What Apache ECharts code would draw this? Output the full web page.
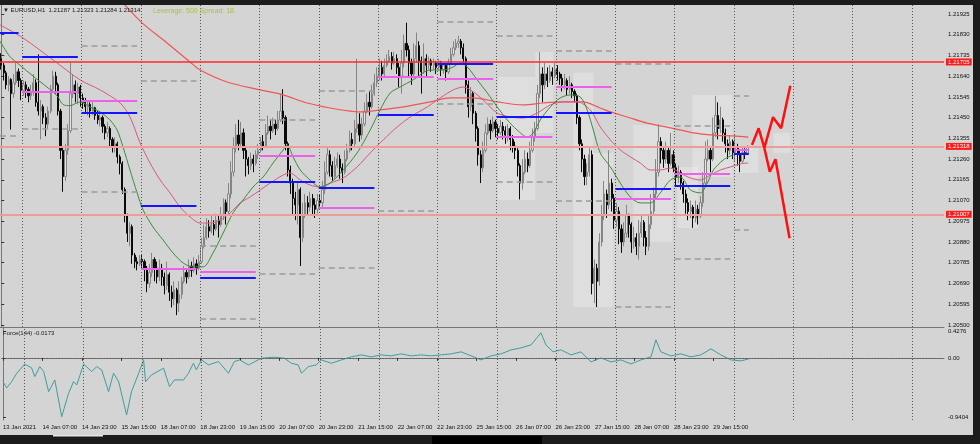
<!DOCTYPE html>
<html><head><meta charset="utf-8">
<script src="https://cdn.jsdelivr.net/npm/echarts@6/dist/echarts.min.js"></script>
<style>html,body{margin:0;padding:0;background:#1c1c1c;}#c{width:980px;height:444px;}</style>
</head><body><div id="c"></div>
<script>
// ---- data (prices in points above 1.20000, i.e. 1314 = 1.21314) ----
const tickLabels = ["13 Jan 2021","14 Jan 07:00","14 Jan 23:00","15 Jan 15:00","18 Jan 07:00","18 Jan 23:00","19 Jan 15:00","20 Jan 07:00","20 Jan 23:00","21 Jan 15:00","22 Jan 07:00","22 Jan 23:00","25 Jan 15:00","26 Jan 07:00","26 Jan 23:00","27 Jan 15:00","28 Jan 07:00","28 Jan 23:00","29 Jan 15:00"];
const priceTicks = [1.21925,1.21830,1.21735,1.21640,1.21545,1.21450,1.21355,1.21260,1.21165,1.21070,1.20975,1.20880,1.20785,1.20690,1.20595,1.20500];
const forceTicks = [0.4276, 0, -0.9404];
const hLevels = [1.21705, 1.21318, 1.21007];

const opens = [1720,1690,1655,1600,1625,1560,1610,1660,1620,1575,
1600,1580,1550,1570,1610,1520,1480,1500,1450,1420,
1480,1580,1640,1600,1480,1300,1180,1300,1390,1560,
1600,1560,1590,1540,1520,1500,1510,1480,1495,1460,
1440,1450,1410,1380,1400,1350,1320,1330,1270,1240,
1120,1000,920,950,820,790,780,800,790,760,
690,740,800,760,720,760,720,680,730,650,
620,660,600,640,700,740,720,770,750,780,
760,790,860,900,950,930,960,940,980,960,
1000,1060,1020,1100,1200,1310,1370,1330,1380,1300,
1260,1230,1260,1240,1280,1300,1340,1320,1380,1410,
1390,1420,1400,1440,1480,1450,1330,1210,1150,1080,
1050,1120,900,1000,1060,1040,1080,1050,1030,1070,
1060,1120,1200,1280,1230,1180,1230,1260,1220,1200,
1260,1300,1350,1330,1400,1420,1370,1420,1480,1520,
1500,1560,1610,1640,1680,1650,1690,1710,1730,1700,
1720,1680,1640,1700,1790,1760,1700,1650,1720,1780,
1710,1660,1720,1690,1710,1690,1700,1680,1700,1670,
1690,1660,1700,1740,1770,1790,1800,1770,1720,1600,
1500,1560,1470,1400,1280,1220,1300,1380,1420,1390,
1430,1400,1380,1410,1390,1370,1400,1350,1320,1300,
1230,1150,1200,1260,1230,1300,1360,1400,1560,1650,
1600,1650,1620,1660,1640,1670,1650,1630,1600,1620,
1580,1600,1570,1550,1450,1330,1260,1180,1200,1280,
690,760,700,880,1000,1100,1050,1150,1080,980,
1020,940,880,920,1000,960,880,900,860,920,
970,900,860,960,1020,1100,1200,1340,1300,1260,
1300,1240,1280,1220,1180,1200,1150,1100,1060,1020,
1040,990,1030,1000,1060,1150,1260,1300,1260,1380,
1460,1400,1440,1380,1330,1300,1340,1290,1310,1280,
1250,1290,1287];
const highs = [1745,1700,1665,1640,1630,1650,1700,1675,1630,1620,
1615,1590,1600,1650,1625,1740,1530,1510,1470,1500,
1600,1665,1660,1610,1490,1320,1330,1420,1700,1650,
1620,1610,1600,1560,1540,1530,1520,1520,1500,1480,
1470,1460,1420,1430,1410,1360,1360,1340,1280,1250,
1130,1010,970,960,830,810,820,820,800,770,
780,830,810,790,800,780,740,790,740,680,
700,670,700,720,770,760,800,790,810,800,
820,900,960,990,980,1000,980,1010,1000,1040,
1080,1075,1150,1250,1360,1420,1440,1430,1400,1320,
1270,1290,1280,1300,1330,1360,1370,1420,1460,1440,
1450,1440,1480,1560,1580,1460,1340,1230,1170,1110,
1150,1130,1060,1100,1090,1110,1100,1080,1100,1100,
1160,1250,1310,1300,1250,1270,1290,1280,1240,1300,
1330,1390,1380,1440,1720,1470,1450,1520,1560,1570,
1600,1650,1680,1720,1710,1720,1740,1760,1750,1750,
1740,1700,1760,1830,1885,1780,1720,1790,1840,1800,
1730,1790,1740,1730,1720,1720,1710,1720,1710,1700,
1700,1720,1770,1800,1810,1825,1810,1790,1730,1620,
1590,1570,1480,1410,1300,1340,1420,1450,1440,1455,
1440,1420,1440,1430,1410,1420,1410,1370,1340,1310,
1240,1260,1300,1290,1340,1400,1430,1600,1750,1680,
1700,1680,1690,1680,1700,1690,1660,1650,1650,1630,
1640,1610,1580,1560,1460,1350,1280,1240,1310,1300,
800,780,920,1050,1160,1120,1300,1170,1100,1060,
1040,960,970,1050,1010,970,950,920,980,1000,
980,930,1000,1100,1130,1260,1420,1360,1320,1340,
1320,1380,1300,1240,1230,1210,1160,1120,1080,1070,
1050,1070,1050,1090,1200,1340,1350,1320,1450,1550,
1520,1500,1450,1400,1350,1370,1350,1370,1330,1300,
1320,1310,1323];
const lows = [1670,1620,1580,1570,1395,1540,1600,1590,1530,1550,
1540,1520,1530,1550,1500,1460,1350,1420,1365,1400,
1470,1570,1560,1460,1260,1110,1160,1280,1380,1540,
1520,1510,1500,1490,1470,1460,1450,1460,1440,1420,
1410,1380,1350,1360,1320,1290,1290,1240,1190,1100,
970,880,860,780,760,750,770,760,700,650,
670,720,700,690,700,680,640,660,610,580,
590,545,560,620,690,690,710,720,740,730,
750,780,850,890,900,920,910,930,900,950,
980,960,1000,1080,1180,1290,1300,1320,1260,1180,
1190,1210,1200,1230,1260,1290,1300,1310,1370,1350,
1380,1370,1390,1430,1420,1300,1180,1100,1000,980,
960,770,880,990,1000,1020,1000,990,1010,1030,
1040,1100,1190,1180,1160,1170,1220,1170,1150,1190,
1250,1290,1300,1320,1380,1340,1350,1410,1470,1460,
1490,1550,1590,1620,1620,1640,1680,1700,1670,1690,
1650,1590,1560,1680,1730,1640,1600,1630,1700,1640,
1560,1650,1640,1670,1660,1670,1650,1670,1640,1650,
1620,1650,1690,1730,1760,1770,1740,1700,1560,1450,
1480,1420,1340,1230,1150,1200,1290,1370,1350,1380,
1360,1350,1370,1350,1330,1340,1300,1290,1260,1180,
1075,1120,1190,1200,1220,1290,1340,1390,1540,1520,
1580,1590,1610,1600,1630,1620,1600,1570,1580,1550,
1560,1540,1520,1420,1300,1200,1140,1140,1180,640,
600,582,680,860,980,990,1030,1020,940,950,
870,830,860,900,900,830,850,820,800,900,
860,820,840,940,1000,1080,1180,1240,1220,1240,
1200,1230,1200,1140,1150,1120,1060,1010,980,990,
945,970,960,990,1040,1130,1250,1200,1250,1360,
1350,1380,1340,1290,1260,1280,1260,1250,1230,1200,
1240,1260,1284];
const closes = [1690,1655,1600,1625,1560,1610,1660,1620,1575,1600,
1580,1550,1570,1610,1520,1480,1500,1450,1420,1480,
1580,1640,1600,1480,1300,1180,1300,1390,1560,1600,
1560,1590,1540,1520,1500,1510,1480,1495,1460,1440,
1450,1410,1380,1400,1350,1320,1330,1270,1240,1120,
1000,920,950,820,790,780,800,790,760,690,
740,800,760,720,760,720,680,730,650,620,
660,600,640,700,740,720,770,750,780,760,
790,860,900,950,930,960,940,980,960,1000,
1060,1020,1100,1200,1310,1370,1330,1380,1300,1260,
1230,1260,1240,1280,1300,1340,1320,1380,1410,1390,
1420,1400,1440,1480,1450,1330,1210,1150,1080,1050,
1120,900,1000,1060,1040,1080,1050,1030,1070,1060,
1120,1200,1280,1230,1180,1230,1260,1220,1200,1260,
1300,1350,1330,1400,1420,1370,1420,1480,1520,1500,
1560,1610,1640,1680,1650,1690,1710,1730,1700,1720,
1680,1640,1700,1790,1760,1700,1650,1720,1780,1710,
1660,1720,1690,1710,1690,1700,1680,1700,1670,1690,
1660,1700,1740,1770,1790,1800,1770,1720,1600,1500,
1560,1470,1400,1280,1220,1300,1380,1420,1390,1430,
1400,1380,1410,1390,1370,1400,1350,1320,1300,1230,
1150,1200,1260,1230,1300,1360,1400,1560,1650,1600,
1650,1620,1660,1640,1670,1650,1630,1600,1620,1580,
1600,1570,1550,1450,1330,1260,1180,1200,1280,690,
760,700,880,1000,1100,1050,1150,1080,980,1020,
940,880,920,1000,960,880,900,860,920,970,
900,860,960,1020,1100,1200,1340,1300,1260,1300,
1240,1280,1220,1180,1200,1150,1100,1060,1020,1040,
990,1030,1000,1060,1150,1260,1300,1260,1380,1460,
1400,1440,1380,1330,1300,1340,1290,1310,1280,1250,
1290,1287,1314];

// moving averages: [bar index, points]
const maFast = [[-0.5,1800],[3.5,1730],[7.6,1690],[12.9,1640],[18.5,1590],[22.6,1550],[25,1510],[27.8,1505],[31.9,1522],[35.9,1499],[40,1476],[44,1439],[46.9,1393],[49.3,1315],[52.1,1210],[55,1105],[57.4,1027],[61.4,949],[65.5,889],[69.5,830],[73.6,784],[77.6,766],[81.7,766],[85.7,830],[89.8,921],[93.8,1013],[97.9,1073],[101.9,1132],[106,1178],[110,1242],[114.1,1302],[115.7,1325],[118.1,1270],[121,1210],[125,1164],[129,1132],[133.1,1150],[138.4,1210],[144,1288],[149.3,1393],[153.3,1485],[157.4,1563],[161.4,1590],[166.7,1623],[173.6,1668],[178.9,1668],[182.9,1682],[185.7,1700],[188.6,1682],[192.6,1623],[196.7,1563],[200.7,1499],[204.8,1439],[208.8,1393],[212.9,1361],[215.3,1380],[218.1,1439],[222.2,1499],[226.2,1540],[230.3,1554],[234.3,1545],[237.1,1485],[239.6,1393],[242.4,1288],[246.5,1224],[250.5,1150],[254.6,1086],[258.6,1059],[262.7,1059],[266.7,1105],[270.8,1164],[274.8,1178],[278.9,1118],[282.9,1105],[285.7,1150],[288.2,1210],[292.2,1256],[296.3,1279],[301.9,1288]];
const maMid = [[-0.5,1875],[8.8,1815],[21,1714],[31.9,1623],[40,1577],[48.1,1517],[52.1,1453],[56.2,1334],[60.2,1242],[64.3,1164],[68.3,1105],[72.4,1040],[76.4,995],[80.5,967],[84.5,967],[88.6,981],[92.6,1013],[96.7,1059],[100.7,1086],[104.8,1118],[108.8,1150],[114.1,1187],[116.9,1196],[121,1164],[125,1141],[129,1132],[133.1,1150],[138.4,1173],[144,1224],[149.3,1288],[154.6,1348],[160.2,1407],[165.5,1453],[172.4,1499],[177.6,1540],[182.9,1577],[187,1590],[191,1568],[195,1531],[200.7,1471],[206,1453],[211.2,1448],[216.9,1471],[222.2,1508],[227.4,1522],[233.1,1522],[238.4,1485],[242.4,1407],[246.5,1348],[250.5,1302],[254.6,1270],[258.6,1242],[262.7,1210],[266.7,1210],[270.8,1219],[274.8,1196],[278.9,1173],[282.9,1164],[287,1187],[291,1210],[295.1,1224],[299.1,1238],[302.3,1242]];
const maSlow = [[46,2012],[48.1,1989],[57,1884],[67.1,1792],[76.4,1705],[80.5,1668],[91.4,1613],[104.8,1577],[114.1,1554],[123.8,1517],[133.1,1494],[141.2,1480],[146.5,1476],[153.3,1485],[162.7,1499],[173.6,1522],[181.7,1540],[191,1540],[200.7,1522],[211.2,1508],[219.3,1517],[227.4,1522],[235.5,1522],[242.4,1494],[246.5,1476],[253.3,1453],[261.4,1425],[270.8,1403],[280.1,1380],[288.2,1370],[296.3,1366],[302.3,1361]];

// daily levels (one entry per day, day start bar index)
const dayStarts = [-15,9,33,57,81,105,129,153,177,201,225,249,273,297];
const blueLv = [1839,1729,1470,1046,714,1154,1129,1461,1699,1454,1473,1123,1140,1283];
const magentaLv = [null,1567,1525,759,744,1276,1039,1638,1626,1360,1592,1077,1195,1302];
const grayLv = [[1366],[1397],[1781,1108],[1621],[863,530],[1442,733],[1573,762],[1022],[1890,1512],[1826,1155],[1755,1069],[1696,584],[1413,802],[1551,938]];
const gridDays = [9,33,57,81,105,129,153,177,201,225,249,273,297,321,345,369];

// light boxes [bar from, bar to, low pts, high pts]
const boxes = [[201.1,216.1,1073,1636],[216.1,223.4,1380,1751],[231.5,239.6,582,1655],[239.6,247.7,582,1288],[255.8,271.6,880,1416],[273.6,282.1,944,1224],[279.7,295.9,1178,1554],[297.1,306.4,1196,1311],[312.5,319.3,1288,1380]];

// projection zigzag [bar, pts]
const zigUp = [[303.8,1325],[306.5,1401],[308.8,1311],[312.3,1452],[315.6,1401],[319.3,1596]];
const zigDown = [[308.8,1311],[311,1202],[313.3,1259],[319,897]];

// Force(144) indicator [bar, value]
const force = [[0,-0.378],[1.5,-0.478],[3.5,-0.378],[5.6,-0.244],[8.8,-0.100],[11.6,-0.159],[12.9,-0.298],[14.9,-0.139],[16.5,-0.218],[18.5,-0.537],[21,-0.351],[23.8,-0.936],[26.6,-0.563],[28.6,-0.378],[29.9,-0.431],[32.7,-0.100],[36,-0.218],[38,-0.139],[40,-0.191],[42.8,-0.537],[44.8,-0.244],[46.9,-0.378],[50.1,-0.909],[52.1,-0.537],[55,-0.244],[57,-0.032],[57.8,-0.378],[60.2,-0.271],[65.1,-0.164],[67.5,-0.458],[69.5,-0.351],[73.2,-0.351],[75.2,-0.244],[77.2,-0.085],[78.4,-0.191],[80.5,-0.032],[83.3,-0.112],[87.4,-0.059],[91.4,-0.244],[93.8,-0.059],[95.9,-0.032],[99.5,-0.112],[104.8,-0.005],[110,0.011],[114.1,-0.005],[116.9,-0.085],[119.7,-0.112],[121,-0.244],[123.8,-0.139],[127,-0.112],[129,-0.032],[133.1,-0.085],[137.2,-0.032],[141.2,0.016],[145.2,0.048],[149.3,0.016],[153.3,0.048],[157.4,0.032],[161.4,0.064],[165.5,0.032],[169.5,0.048],[173.6,0.032],[177.6,0.048],[181.7,0.064],[185.7,0.096],[189.8,0.032],[193.8,-0.032],[197.9,0.032],[201.9,0.064],[206,0.128],[210,0.159],[214.1,0.207],[218.1,0.399],[220.1,0.207],[223,0.096],[226.2,0.128],[230.3,0.048],[234.3,0.096],[238.4,-0.064],[242.4,0],[246.5,-0.064],[250.5,-0.032],[254.6,-0.096],[258.6,-0.032],[262.7,0.016],[264.7,0.287],[266.7,0.096],[270.8,0.032],[274.8,0.064],[278.9,0.016],[282.9,0.048],[287,0.144],[291,0.048],[295.1,-0.032],[299.1,-0.048],[302.3,-0.017]];

// ---- build ----
const N = 382;
const toP = v => 1.2 + v / 100000;
const cats = Array.from({length: N}, (_, i) => i);
const lastIdx = closes.length - 1;
const candleData = closes.map((c, i) => [toP(opens[i]), toP(c), toP(lows[i]), toP(highs[i])]);
const pts = arr => arr.map(d => [d[0], toP(d[1])]);
const labelShown = (idx) => idx % 16 === 0 && idx / 16 < tickLabels.length;

const segLines = [];
dayStarts.forEach((b, k) => {
  const s = Math.max(b - 0.5, -0.5), e = Math.min(b + 22, lastIdx + 0.5);
  grayLv[k].forEach(v => segLines.push([{coord: [s, toP(v)], lineStyle: {color: '#9a9a9a', width: 1.6, type: [6, 4]}}, {coord: [e, toP(v)]}]));
  if (magentaLv[k] != null) segLines.push([{coord: [s, toP(magentaLv[k])], lineStyle: {color: '#ee5fee', width: 2, type: 'solid'}}, {coord: [e, toP(magentaLv[k])]}]);
  segLines.push([{coord: [s, toP(blueLv[k])], lineStyle: {color: '#1414ff', width: 2, type: 'solid'}}, {coord: [e, toP(blueLv[k])]}]);
});

const vLines = gridDays.map(b => ({xAxis: b - 0.5}));
// full-width horizontal levels as coordinate pairs spanning the whole x range
const hLineData = hLevels.map((p, k) => [
  {coord: [-0.5, p],
   lineStyle: k === 0 ? {color: '#ff2a2a', width: 1.6, type: 'solid'} : {color: '#f09a9a', width: 2, type: 'solid'},
   label: {show: true, position: 'end', distance: 2, formatter: p.toFixed(5), backgroundColor: '#ff1a1a', color: '#ffffff', fontSize: 6, padding: [1, 2, 0, 2]}},
  {coord: [N - 0.5, p]}
]);

const FONT = '"Liberation Sans", Arial, sans-serif';
const chart = echarts.init(document.getElementById('c'), null, {renderer: 'canvas'});
chart.setOption({
  animation: false,
  backgroundColor: '#d4d4d4',
  textStyle: {fontFamily: FONT},
  grid: [
    {left: 0, top: 5, width: 944, height: 322},
    {left: 0, top: 327, width: 944, height: 93}
  ],
  xAxis: [
    {type: 'category', gridIndex: 0, data: cats, boundaryGap: true,
     axisLine: {show: true, lineStyle: {color: '#777', width: 1}}, axisTick: {show: false}, axisLabel: {show: false}, splitLine: {show: false}},
    {type: 'value', gridIndex: 0, min: -0.5, max: N - 0.5, show: false},
    {type: 'category', gridIndex: 1, data: cats, boundaryGap: true,
     axisLine: {show: true, lineStyle: {color: '#777', width: 1}},
     axisTick: {show: true, interval: labelShown, alignWithLabel: true, length: 3, lineStyle: {color: '#333'}},
     axisLabel: {interval: labelShown, formatter: (v) => tickLabels[Number(v) / 16] || '', fontSize: 6, color: '#111', align: 'left', margin: 4, fontFamily: FONT},
     splitLine: {show: false}},
    {type: 'value', gridIndex: 1, min: -0.5, max: N - 0.5, show: false}
  ],
  yAxis: [
    {type: 'value', gridIndex: 0, position: 'right', min: 1.204905, max: 1.21966,
     axisLine: {show: true, lineStyle: {color: '#777'}},
     axisTick: {show: true, length: 3, customValues: priceTicks, lineStyle: {color: '#333'}},
     axisLabel: {customValues: priceTicks, formatter: v => v.toFixed(5), fontSize: 6, color: '#111', margin: 4, fontFamily: FONT},
     splitLine: {show: false}},
    {type: 'value', gridIndex: 1, position: 'right', min: -0.9882, max: 0.4913,
     axisLine: {show: true, lineStyle: {color: '#777'}},
     axisTick: {show: true, length: 3, customValues: forceTicks, lineStyle: {color: '#333'}},
     axisLabel: {customValues: forceTicks, formatter: v => v === 0 ? '0.00' : v.toFixed(4), fontSize: 6, color: '#111', margin: 4, fontFamily: FONT},
     splitLine: {show: false}}
  ],
  series: [
    {type: 'custom', xAxisIndex: 1, yAxisIndex: 0, z: 1, silent: true,
     data: boxes.map(b => [b[0], b[1], toP(b[2]), toP(b[3])]),
     encode: {x: [0, 1], y: [2, 3]},
     renderItem: (params, api) => {
       const p1 = api.coord([api.value(0), api.value(2)]);
       const p2 = api.coord([api.value(1), api.value(3)]);
       return {type: 'rect', shape: {x: p1[0], y: p2[1], width: p2[0] - p1[0], height: p1[1] - p2[1]}, style: {fill: 'rgba(255,255,255,0.24)'}};
     },
     markLine: {silent: true, symbol: ['none', 'none'], label: {show: false}, emphasis: {disabled: true},
       lineStyle: {color: '#555', width: 1, type: [1, 2]}, data: vLines}
    },
    {type: 'candlestick', xAxisIndex: 0, yAxisIndex: 0, z: 2, data: candleData, barWidth: 1.7, silent: true,
     itemStyle: {color: '#e4e4e4', borderColor: '#858585', color0: '#0a0a0a', borderColor0: '#0a0a0a', borderWidth: 1}
    },
    {type: 'line', xAxisIndex: 1, yAxisIndex: 0, z: 4, data: pts(maSlow), showSymbol: false, smooth: 0.3, silent: true,
     lineStyle: {color: '#f05656', width: 1.2}},
    {type: 'line', xAxisIndex: 1, yAxisIndex: 0, z: 4, data: pts(maMid), showSymbol: false, smooth: 0.3, silent: true,
     lineStyle: {color: '#d8587e', width: 1}},
    {type: 'line', xAxisIndex: 1, yAxisIndex: 0, z: 4, data: pts(maFast), showSymbol: false, smooth: 0.3, silent: true,
     lineStyle: {color: '#3c8a3c', width: 1},
     markLine: {silent: true, symbol: ['none', 'none'], label: {show: false}, emphasis: {disabled: true}, data: segLines}
    },
    {type: 'line', xAxisIndex: 1, yAxisIndex: 0, z: 6, data: pts(zigUp), showSymbol: false, silent: true,
     lineStyle: {color: '#ff1010', width: 2.5},
     markLine: {silent: true, symbol: ['none', 'none'], emphasis: {disabled: true}, data: hLineData}},
    {type: 'line', xAxisIndex: 1, yAxisIndex: 0, z: 6, data: pts(zigDown), showSymbol: false, silent: true,
     lineStyle: {color: '#ff1010', width: 2.5}},
    {type: 'line', xAxisIndex: 3, yAxisIndex: 1, z: 3, data: force, showSymbol: false, silent: true,
     lineStyle: {color: '#3d9f9c', width: 1},
     markLine: {silent: true, symbol: ['none', 'none'], label: {show: false}, emphasis: {disabled: true},
       lineStyle: {color: '#555', width: 1, type: [1, 2]},
       data: vLines.concat([{yAxis: 0}])}
    }
  ],
  graphic: [
    {type: 'rect', shape: {x: 0, y: 0, width: 980, height: 5}, style: {fill: '#1c1c1c'}, z: 100},
    {type: 'rect', shape: {x: 973, y: 0, width: 7, height: 444}, style: {fill: '#1c1c1c'}, z: 100},
    {type: 'rect', shape: {x: 0, y: 435, width: 980, height: 9}, style: {fill: '#1c1c1c'}, z: 100},
    {type: 'rect', shape: {x: 432, y: 436, width: 110, height: 8}, style: {fill: '#000'}, z: 101},
    {type: 'rect', shape: {x: 53, y: 435, width: 50, height: 1.5}, style: {fill: '#e8e8e8'}, z: 101},
    {type: 'text', x: 3, y: 7, z: 100, style: {text: '▼ EURUSD,H1  1.21287 1.21323 1.21284 1.21314', font: '6px ' + FONT, fill: '#1a1a1a'}},
    {type: 'text', x: 153, y: 8, z: 100, style: {text: 'Leverage: 500 Spread: 18', font: '7px ' + FONT, fill: '#a9c23a'}},
    {type: 'text', x: 3, y: 330, z: 100, style: {text: 'Force(144) -0.0173', font: '6px ' + FONT, fill: '#1a1a1a'}}
  ]
});
</script></body></html>
